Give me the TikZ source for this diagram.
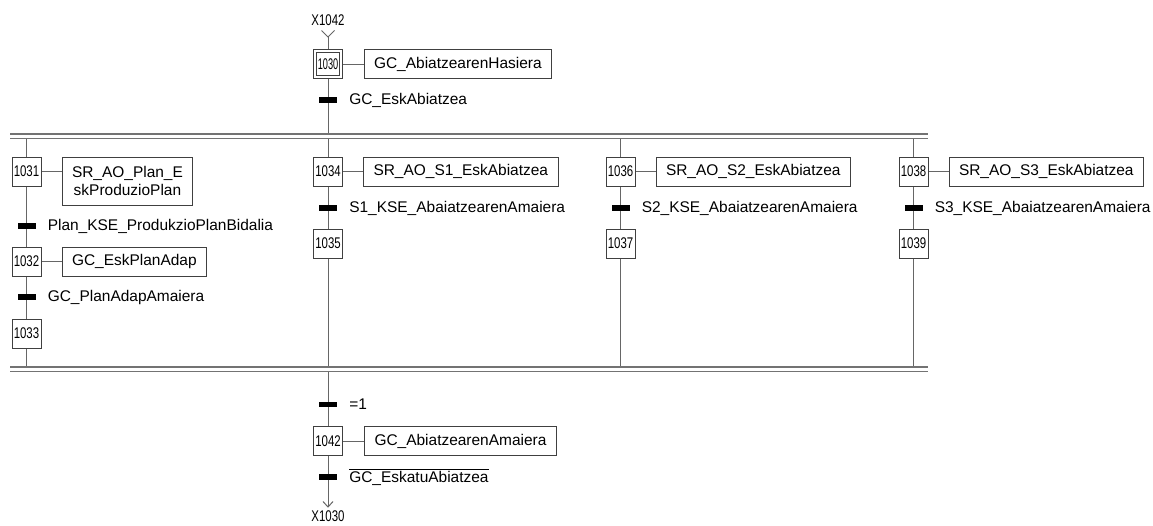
\documentclass[tikz,border=0pt]{standalone}
\usepackage{fontspec}
\setmainfont{Liberation Sans}
\newfontfamily\stepfont{Liberation Sans}[FakeStretch=0.74]
\usetikzlibrary{positioning,calc,backgrounds}
\newcommand\fsz{\fontsize{11.6}{14.2}\selectfont}
\begin{document}
\begin{tikzpicture}[x=0.75pt,y=-0.75pt,
  conn/.style={draw=black!60, line width=0.75pt},
  stepbox/.style={draw=black!75, fill=white, line width=0.75pt, minimum width=21.75pt, minimum height=21.75pt, inner sep=0pt, font=\stepfont\fsz},
  initstep/.style={stepbox, double, double distance=1.6pt, line width=0.6pt, minimum width=19.7pt, minimum height=19.7pt},
  actbox/.style={draw=black!75, line width=0.75pt, minimum height=21.75pt, inner xsep=7.5pt, inner ysep=0pt, font=\fsz, align=center, anchor=west},
  tbar/.style={fill=black, minimum width=13.5pt, minimum height=4pt, inner sep=0pt},
  tlabel/.style={font=\fsz, inner sep=0pt, anchor=west},
  reflabel/.style={font=\stepfont\fsz, inner sep=0pt},
  dline/.style={draw=black!55, line width=1pt}]
\useasboundingbox (0,0) rectangle (1153,525);

% initial step
\node[reflabel] (x1042) at (328,20) {X1042};
\coordinate (vtop) at (328,37);
\node[initstep] (s1030) at (328,64) {\scalebox{0.8}[1]{1030}};
\node[actbox] (a1030) at ($(s1030.east)+(22,0)$) {GC\_AbiatzearenHasiera};
\node[tbar] (b0) at (328,100) {};
\node[tlabel] (l0) at ($(b0)+(21,0)$) {GC\_EskAbiatzea};

% double lines
\coordinate (ta) at (10,134);   \coordinate (tb) at (928,134);
\coordinate (tc) at (10,138.5); \coordinate (td) at (928,138.5);
\coordinate (ua) at (10,367);   \coordinate (ub) at (928,367);
\coordinate (uc) at (10,371.5); \coordinate (ud) at (928,371.5);
\draw[dline] (ta) -- (tb);
\draw[dline] (tc) -- (td);
\draw[dline] (ua) -- (ub);
\draw[dline] (uc) -- (ud);

% branch 1
\node[stepbox] (s1031) at (26.5,171.5) {1031};
\node[actbox, anchor=north west, minimum height=36pt] (a1031) at ($(s1031.north east)+(20,0)$) {SR\_AO\_Plan\_E\\skProduzioPlan};
\node[tbar] (b1) at (26.5,226) {};
\node[tlabel] (l1) at ($(b1)+(21,0)$) {Plan\_KSE\_ProdukzioPlanBidalia};
\node[stepbox] (s1032) at (26.5,261.5) {1032};
\node[actbox] (a1032) at ($(s1032.east)+(20,0)$) {GC\_EskPlanAdap};
\node[tbar] (b2) at (26.5,297) {};
\node[tlabel] (l2) at ($(b2)+(21,0)$) {GC\_PlanAdapAmaiera};
\node[stepbox] (s1033) at (26.5,333.5) {1033};

% branch 2
\node[stepbox] (s1034) at (328,171.5) {1034};
\node[actbox] (a1034) at ($(s1034.east)+(20,0)$) {SR\_AO\_S1\_EskAbiatzea};
\node[tbar] (b3) at (328,208) {};
\node[tlabel] (l3) at ($(b3)+(21,0)$) {S1\_KSE\_AbaiatzearenAmaiera};
\node[stepbox] (s1035) at (328,243.5) {1035};

% branch 3
\node[stepbox] (s1036) at (620.5,171.5) {1036};
\node[actbox] (a1036) at ($(s1036.east)+(20,0)$) {SR\_AO\_S2\_EskAbiatzea};
\node[tbar] (b4) at (620.5,208) {};
\node[tlabel] (l4) at ($(b4)+(21,0)$) {S2\_KSE\_AbaiatzearenAmaiera};
\node[stepbox] (s1037) at (620.5,243.5) {1037};

% branch 4
\node[stepbox] (s1038) at (913.5,171.5) {1038};
\node[actbox] (a1038) at ($(s1038.east)+(20,0)$) {SR\_AO\_S3\_EskAbiatzea};
\node[tbar] (b5) at (913.5,208) {};
\node[tlabel] (l5) at ($(b5)+(21,0)$) {S3\_KSE\_AbaiatzearenAmaiera};
\node[stepbox] (s1039) at (913.5,243.5) {1039};

% end
\node[tbar] (b6) at (328,404.5) {};
\node[tlabel] (l6) at ($(b6)+(21,0)$) {=1};
\node[stepbox] (s1042) at (328,441) {1042};
\node[actbox] (a1042) at ($(s1042.east)+(21,0)$) {GC\_AbiatzearenAmaiera};
\node[tbar] (b7) at (328,477) {};
\node[tlabel] (l7) at ($(b7)+(21,0)$) {$\overline{\mbox{GC\_EskatuAbiatzea}}$};
\coordinate (vbot) at (328,507);
\node[reflabel] (x1030) at (328,516) {X1030};

\begin{scope}[on background layer]
  % top arrow
  \draw[conn] ($(vtop)+(-6.5,-6.5)$) -- (vtop) -- ($(vtop)+(6.5,-6.5)$);
  \draw[conn] (vtop) -- (s1030.north);
  \draw[conn] (s1030.south) -- (s1030.south |- ta);
  \draw[conn] (s1030.east) -- (a1030.west);
  % branch 1
  \draw[conn] (s1031.north |- tc) -- (s1031.north);
  \draw[conn] (s1031.east) -- (s1031.east -| a1031.west);
  \draw[conn] (s1031.south) -- (s1032.north);
  \draw[conn] (s1032.east) -- (a1032.west);
  \draw[conn] (s1032.south) -- (s1033.north);
  \draw[conn] (s1033.south) -- (s1033.south |- ua);
  % branch 2
  \draw[conn] (s1034.north |- tc) -- (s1034.north);
  \draw[conn] (s1034.east) -- (a1034.west);
  \draw[conn] (s1034.south) -- (s1035.north);
  \draw[conn] (s1035.south) -- (s1035.south |- ua);
  % branch 3
  \draw[conn] (s1036.north |- tc) -- (s1036.north);
  \draw[conn] (s1036.east) -- (a1036.west);
  \draw[conn] (s1036.south) -- (s1037.north);
  \draw[conn] (s1037.south) -- (s1037.south |- ua);
  % branch 4
  \draw[conn] (s1038.north |- tc) -- (s1038.north);
  \draw[conn] (s1038.east) -- (a1038.west);
  \draw[conn] (s1038.south) -- (s1039.north);
  \draw[conn] (s1039.south) -- (s1039.south |- ua);
  % end
  \draw[conn] (s1042.north |- uc) -- (s1042.north);
  \draw[conn] (s1042.east) -- (a1042.west);
  \draw[conn] (s1042.south) -- (vbot);
  \draw[conn] ($(vbot)+(-5,-5.5)$) -- (vbot) -- ($(vbot)+(5,-5.5)$);
\end{scope}
\end{tikzpicture}
\end{document}
